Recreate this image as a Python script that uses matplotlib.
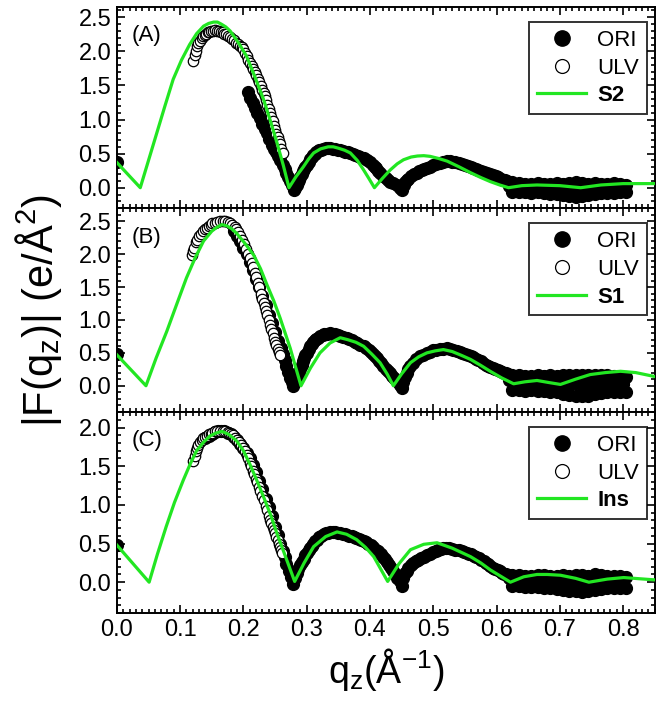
import matplotlib
matplotlib.use('Agg')
import matplotlib.pyplot as plt
from matplotlib.ticker import MultipleLocator, FormatStrFormatter
from matplotlib.lines import Line2D

plt.rcParams['font.family'] = ['Liberation Sans', 'DejaVu Sans']
plt.rcParams['mathtext.fontset'] = 'custom'
plt.rcParams['mathtext.rm'] = 'Liberation Sans'
plt.rcParams['mathtext.default'] = 'regular'

GREEN = '#22e622'

# ============================================================
# data
# ============================================================
# --- panel A : S2 fit ---
s2_q = [0.0, 0.037, 0.05, 0.063, 0.076, 0.089, 0.102, 0.115, 0.126, 0.137, 0.145, 0.153,
        0.159, 0.165, 0.172, 0.179, 0.192, 0.205, 0.218, 0.232, 0.243, 0.253, 0.263, 0.272,
        0.283, 0.295, 0.303, 0.311, 0.322, 0.334, 0.342, 0.35, 0.36, 0.369, 0.38, 0.39,
        0.398, 0.407, 0.42, 0.432, 0.443, 0.453, 0.465, 0.475, 0.485, 0.495, 0.508, 0.522,
        0.54, 0.559, 0.575, 0.59, 0.605, 0.619, 0.64, 0.664, 0.70, 0.733, 0.765, 0.80, 0.85]
s2_f = [0.37, 0.0, 0.40, 0.80, 1.20, 1.59, 1.87, 2.10, 2.26, 2.37, 2.41, 2.43,
        2.43, 2.40, 2.36, 2.30, 2.13, 1.93, 1.63, 1.29, 0.97, 0.66, 0.33, 0.0,
        0.16, 0.31, 0.42, 0.51, 0.57, 0.60, 0.60, 0.58, 0.55, 0.51, 0.40, 0.26,
        0.14, 0.0, 0.14, 0.26, 0.35, 0.41, 0.45, 0.465, 0.47, 0.46, 0.43, 0.39,
        0.31, 0.22, 0.15, 0.09, 0.04, 0.0, 0.03, 0.04, 0.03, 0.0, 0.04, 0.06, 0.06]

ulv_a_q = [0.121, 0.123, 0.125, 0.127, 0.129, 0.131, 0.134, 0.136, 0.139, 0.141, 0.144, 0.146,
           0.149, 0.152, 0.155, 0.158, 0.161, 0.164, 0.167, 0.17, 0.173, 0.176, 0.179, 0.182,
           0.185, 0.188, 0.191, 0.194, 0.197, 0.2, 0.203, 0.205, 0.208, 0.21, 0.213, 0.215,
           0.218, 0.22, 0.223, 0.225, 0.228, 0.23, 0.232, 0.234, 0.236, 0.238, 0.24, 0.242,
           0.244, 0.246, 0.248, 0.25, 0.252, 0.254, 0.256, 0.258, 0.26, 0.262]
ulv_a_f = [1.86, 1.94, 2.01, 2.08, 2.12, 2.15, 2.19, 2.22, 2.24, 2.26, 2.28, 2.29,
           2.30, 2.30, 2.31, 2.30, 2.30, 2.29, 2.28, 2.26, 2.25, 2.23, 2.21, 2.18,
           2.16, 2.13, 2.11, 2.08, 2.06, 2.03, 1.97, 1.93, 1.87, 1.83, 1.78, 1.74,
           1.70, 1.66, 1.60, 1.55, 1.49, 1.44, 1.39, 1.34, 1.28, 1.22, 1.16, 1.10,
           1.04, 0.98, 0.91, 0.85, 0.79, 0.74, 0.69, 0.64, 0.57, 0.51]

ori_a_q = [0.0, 0.207, 0.211, 0.215, 0.219, 0.222, 0.226, 0.23, 0.234, 0.237, 0.241, 0.245,
           0.249, 0.252, 0.255, 0.258, 0.262, 0.265, 0.268, 0.271, 0.274, 0.277, 0.28, 0.282,
           0.284, 0.286, 0.288, 0.29, 0.292, 0.294, 0.296, 0.298, 0.30, 0.303, 0.305, 0.308,
           0.31, 0.313, 0.315, 0.318, 0.32, 0.323, 0.326, 0.33, 0.334, 0.337, 0.341, 0.345,
           0.349, 0.353, 0.357, 0.36, 0.365, 0.369, 0.373, 0.377, 0.381, 0.385, 0.39, 0.395,
           0.40, 0.405, 0.408, 0.41, 0.413, 0.416, 0.42, 0.425, 0.428, 0.432, 0.437, 0.442,
           0.447, 0.45, 0.453, 0.455, 0.458, 0.46, 0.465, 0.47, 0.474, 0.478, 0.482, 0.486,
           0.49, 0.495, 0.50, 0.505, 0.51, 0.515, 0.522, 0.526, 0.53, 0.535, 0.54, 0.545,
           0.55, 0.555, 0.559, 0.563, 0.567, 0.571, 0.575, 0.58, 0.585, 0.59, 0.595, 0.599,
           0.603, 0.607, 0.611, 0.614, 0.617]
ori_a_f = [0.38, 1.40, 1.32, 1.25, 1.17, 1.10, 1.02, 0.93, 0.86, 0.80, 0.72, 0.63,
           0.57, 0.52, 0.46, 0.41, 0.34, 0.28, 0.22, 0.16, 0.10, 0.04, -0.03, 0.0,
           0.04, 0.08, 0.12, 0.16, 0.20, 0.24, 0.27, 0.31, 0.34, 0.38, 0.42, 0.45,
           0.48, 0.50, 0.52, 0.54, 0.55, 0.56, 0.57, 0.58, 0.58, 0.58, 0.575, 0.57,
           0.56, 0.55, 0.54, 0.53, 0.52, 0.51, 0.495, 0.48, 0.465, 0.45, 0.43, 0.41,
           0.38, 0.34, 0.31, 0.29, 0.25, 0.22, 0.17, 0.14, 0.11, 0.09, 0.07, 0.04,
           0.0, -0.03, 0.04, 0.08, 0.11, 0.13, 0.17, 0.20, 0.22, 0.24, 0.255, 0.27,
           0.29, 0.31, 0.33, 0.35, 0.365, 0.38, 0.39, 0.385, 0.38, 0.37, 0.36, 0.345,
           0.33, 0.32, 0.31, 0.295, 0.28, 0.265, 0.25, 0.235, 0.22, 0.20, 0.18, 0.165,
           0.15, 0.135, 0.12, 0.11, 0.10]

# noisy high-q tail of the ORI data (top / middle / bottom of the band)
tail_q = [0.625, 0.635, 0.645, 0.655, 0.665, 0.675, 0.685, 0.695, 0.705, 0.715,
          0.725, 0.735, 0.745, 0.755, 0.765, 0.775, 0.785, 0.795, 0.805]
tail_q_mid = [0.62, 0.63, 0.64, 0.65, 0.66, 0.67, 0.68, 0.69, 0.70, 0.71,
              0.72, 0.73, 0.74, 0.75, 0.76, 0.77, 0.78, 0.79, 0.80]
tail_a_hi = [0.08, 0.07, 0.06, 0.06, 0.07, 0.06, 0.06, 0.07, 0.06, 0.07,
             0.08, 0.07, 0.06, 0.07, 0.06, 0.06, 0.07, 0.06, 0.04]
tail_a_mid = [0.03, 0.0, 0.0, -0.01, 0.0, -0.01, -0.01, -0.02, -0.02, -0.03,
              -0.03, -0.03, -0.02, -0.02, -0.01, -0.01, -0.01, -0.01, -0.01]
tail_a_lo = [-0.06, -0.07, -0.07, -0.08, -0.07, -0.08, -0.09, -0.09, -0.11, -0.12,
             -0.13, -0.12, -0.10, -0.09, -0.08, -0.08, -0.08, -0.07, -0.06]

# --- panel B : S1 fit ---
s1_q = [0.0, 0.046, 0.062, 0.079, 0.095, 0.110, 0.124, 0.137, 0.15, 0.158, 0.166, 0.174,
        0.181, 0.189, 0.202, 0.216, 0.227, 0.237, 0.248, 0.258, 0.266, 0.274, 0.282, 0.291,
        0.306, 0.321, 0.337, 0.353, 0.365, 0.378, 0.39, 0.403, 0.416, 0.427, 0.437, 0.45,
        0.464, 0.477, 0.49, 0.503, 0.516, 0.53, 0.545, 0.559, 0.575, 0.59, 0.608, 0.627,
        0.645, 0.664, 0.682, 0.701, 0.725, 0.748, 0.772, 0.796, 0.82, 0.85]
s1_f = [0.47, 0.0, 0.42, 0.83, 1.25, 1.64, 1.95, 2.20, 2.35, 2.41, 2.45, 2.43,
        2.39, 2.32, 2.17, 1.99, 1.78, 1.54, 1.29, 1.03, 0.80, 0.57, 0.30, 0.0,
        0.27, 0.50, 0.65, 0.73, 0.70, 0.66, 0.60, 0.48, 0.35, 0.18, 0.0, 0.18,
        0.35, 0.44, 0.50, 0.53, 0.55, 0.52, 0.46, 0.40, 0.31, 0.22, 0.12, 0.03,
        0.06, 0.08, 0.05, 0.02, 0.10, 0.17, 0.20, 0.22, 0.20, 0.14]

ulv_b_q = [0.118, 0.12, 0.122, 0.125, 0.127, 0.13, 0.133, 0.136, 0.139, 0.142, 0.145, 0.148,
           0.151, 0.155, 0.159, 0.163, 0.167, 0.171, 0.175, 0.179, 0.182, 0.186, 0.189, 0.192,
           0.195, 0.198, 0.201, 0.204, 0.207, 0.21, 0.213, 0.215, 0.218, 0.22, 0.223, 0.225,
           0.228, 0.23, 0.232, 0.234, 0.236, 0.238, 0.24, 0.242, 0.244, 0.246, 0.248, 0.25,
           0.252, 0.254, 0.256, 0.258]
ulv_b_f = [1.99, 2.05, 2.10, 2.18, 2.22, 2.27, 2.31, 2.35, 2.38, 2.40, 2.43, 2.45,
           2.47, 2.48, 2.49, 2.50, 2.50, 2.50, 2.49, 2.47, 2.45, 2.42, 2.38, 2.34,
           2.28, 2.22, 2.15, 2.08, 2.01, 1.94, 1.86, 1.80, 1.71, 1.65, 1.56, 1.50,
           1.39, 1.32, 1.26, 1.20, 1.13, 1.07, 1.00, 0.93, 0.87, 0.80, 0.73, 0.67,
           0.62, 0.56, 0.51, 0.47]

ori_b_q = [0.0, 0.185, 0.19, 0.195, 0.2, 0.205, 0.21, 0.215, 0.22, 0.225, 0.23, 0.235,
           0.24, 0.245, 0.25, 0.255, 0.259, 0.262, 0.265, 0.268, 0.271, 0.274, 0.277, 0.279,
           0.282, 0.284, 0.286, 0.288, 0.29, 0.292, 0.294, 0.296, 0.298, 0.30, 0.303, 0.305,
           0.308, 0.31, 0.313, 0.315, 0.318, 0.321, 0.325, 0.328, 0.332, 0.337, 0.341, 0.345,
           0.349, 0.353, 0.358, 0.363, 0.367, 0.372, 0.376, 0.38, 0.385, 0.39, 0.394, 0.398,
           0.402, 0.405, 0.408, 0.411, 0.415, 0.418, 0.421, 0.425, 0.428, 0.432, 0.435, 0.438,
           0.441, 0.444, 0.447, 0.45, 0.452, 0.455, 0.458, 0.46, 0.464, 0.468, 0.473, 0.479,
           0.484, 0.49, 0.495, 0.50, 0.505, 0.51, 0.516, 0.522, 0.527, 0.532, 0.537, 0.542,
           0.546, 0.55, 0.555, 0.559, 0.563, 0.567, 0.571, 0.575, 0.579, 0.583, 0.587, 0.59,
           0.594, 0.598, 0.602, 0.606, 0.609, 0.612, 0.615, 0.618]
ori_b_f = [0.48, 2.35, 2.28, 2.20, 2.10, 2.00, 1.88, 1.76, 1.63, 1.50, 1.36, 1.22,
           1.08, 0.95, 0.82, 0.68, 0.57, 0.48, 0.39, 0.30, 0.21, 0.12, 0.05, -0.01,
           0.05, 0.10, 0.15, 0.20, 0.26, 0.32, 0.37, 0.42, 0.46, 0.50, 0.56, 0.60,
           0.63, 0.66, 0.69, 0.71, 0.73, 0.75, 0.77, 0.78, 0.79, 0.80, 0.79, 0.78,
           0.77, 0.76, 0.745, 0.73, 0.71, 0.69, 0.67, 0.65, 0.625, 0.60, 0.57, 0.54,
           0.51, 0.48, 0.45, 0.42, 0.38, 0.34, 0.30, 0.26, 0.22, 0.19, 0.15, 0.12,
           0.08, 0.05, 0.01, -0.04, 0.06, 0.14, 0.20, 0.25, 0.30, 0.34, 0.40, 0.45,
           0.475, 0.50, 0.52, 0.54, 0.55, 0.56, 0.565, 0.57, 0.56, 0.55, 0.535, 0.52,
           0.505, 0.49, 0.47, 0.45, 0.43, 0.41, 0.39, 0.37, 0.345, 0.32, 0.305, 0.29,
           0.27, 0.25, 0.235, 0.22, 0.21, 0.20, 0.19, 0.18]
tail_b_hi = [0.17, 0.16, 0.15, 0.15, 0.16, 0.15, 0.16, 0.15, 0.16, 0.16,
             0.17, 0.16, 0.16, 0.17, 0.16, 0.16, 0.15, 0.14, 0.14]
tail_b_mid = [0.08, 0.05, 0.04, 0.04, 0.05, 0.04, 0.04, 0.03, 0.03, 0.02,
              0.02, 0.02, 0.02, 0.03, 0.03, 0.03, 0.03, 0.03, 0.03]
tail_b_lo = [-0.07, -0.07, -0.08, -0.07, -0.08, -0.08, -0.09, -0.10, -0.12, -0.14,
             -0.16, -0.16, -0.15, -0.13, -0.11, -0.10, -0.10, -0.10, -0.09]

# --- panel C : Ins fit ---
ins_q = [0.0, 0.051, 0.064, 0.078, 0.091, 0.105, 0.116, 0.126, 0.137, 0.147, 0.157, 0.166,
         0.177, 0.189, 0.2, 0.21, 0.221, 0.232, 0.243, 0.253, 0.267, 0.281, 0.296, 0.311,
         0.33, 0.348, 0.363, 0.379, 0.393, 0.406, 0.417, 0.428, 0.446, 0.464, 0.485, 0.506,
         0.53, 0.559, 0.575, 0.59, 0.606, 0.622, 0.643, 0.664, 0.68, 0.701, 0.725, 0.746,
         0.775, 0.801, 0.85]
ins_f = [0.48, 0.0, 0.36, 0.72, 1.03, 1.32, 1.53, 1.70, 1.81, 1.89, 1.93, 1.95,
         1.91, 1.83, 1.70, 1.53, 1.32, 1.10, 0.87, 0.63, 0.32, 0.01, 0.25, 0.46,
         0.59, 0.65, 0.62, 0.55, 0.45, 0.33, 0.17, 0.01, 0.24, 0.42, 0.49, 0.51,
         0.44, 0.33, 0.25, 0.16, 0.08, 0.0, 0.07, 0.10, 0.10, 0.09, 0.05, 0.0,
         0.04, 0.06, 0.03]

ulv_c_q = [0.121, 0.123, 0.125, 0.127, 0.129, 0.131, 0.134, 0.136, 0.139, 0.142, 0.145, 0.148,
           0.151, 0.155, 0.159, 0.163, 0.167, 0.171, 0.175, 0.178, 0.181, 0.184, 0.187, 0.19,
           0.193, 0.196, 0.199, 0.202, 0.205, 0.207, 0.21, 0.212, 0.215, 0.217, 0.22, 0.222,
           0.225, 0.227, 0.23, 0.232, 0.235, 0.237, 0.24, 0.242, 0.244, 0.246, 0.248, 0.25,
           0.252, 0.254, 0.256, 0.258, 0.26, 0.261]
ulv_c_f = [1.57, 1.63, 1.69, 1.74, 1.78, 1.81, 1.84, 1.86, 1.88, 1.89, 1.91, 1.92,
           1.935, 1.95, 1.955, 1.96, 1.955, 1.95, 1.94, 1.93, 1.915, 1.90, 1.87, 1.84,
           1.81, 1.77, 1.73, 1.69, 1.64, 1.60, 1.54, 1.50, 1.44, 1.40, 1.34, 1.30,
           1.23, 1.18, 1.11, 1.06, 0.98, 0.93, 0.86, 0.80, 0.76, 0.72, 0.67, 0.63,
           0.58, 0.54, 0.50, 0.46, 0.41, 0.38]

ori_c_q = [0.0, 0.14, 0.145, 0.15, 0.155, 0.16, 0.165, 0.17, 0.175, 0.18, 0.185, 0.19,
           0.195, 0.2, 0.205, 0.21, 0.215, 0.22, 0.225, 0.23, 0.235, 0.24, 0.245, 0.25,
           0.254, 0.258, 0.262, 0.265, 0.268, 0.272, 0.275, 0.279, 0.282, 0.285, 0.287, 0.29,
           0.292, 0.295, 0.298, 0.30, 0.303, 0.305, 0.308, 0.31, 0.313, 0.316, 0.32, 0.323,
           0.327, 0.33, 0.334, 0.337, 0.341, 0.345, 0.349, 0.353, 0.357, 0.36, 0.364, 0.367,
           0.371, 0.374, 0.378, 0.382, 0.386, 0.39, 0.394, 0.397, 0.401, 0.405, 0.409, 0.412,
           0.415, 0.418, 0.421, 0.424, 0.427, 0.43, 0.434, 0.437, 0.44, 0.443, 0.447, 0.45,
           0.452, 0.455, 0.458, 0.46, 0.465, 0.468, 0.472, 0.476, 0.48, 0.485, 0.49, 0.495,
           0.50, 0.504, 0.508, 0.512, 0.516, 0.52, 0.525, 0.53, 0.535, 0.54, 0.545, 0.549,
           0.553, 0.556, 0.56, 0.564, 0.568, 0.572, 0.576, 0.58, 0.583, 0.587, 0.59, 0.594,
           0.598, 0.602, 0.605, 0.609, 0.612, 0.615, 0.618]
ori_c_f = [0.48, 1.86, 1.89, 1.92, 1.94, 1.95, 1.955, 1.95, 1.935, 1.91, 1.88, 1.84,
           1.79, 1.73, 1.67, 1.60, 1.51, 1.42, 1.31, 1.20, 1.08, 0.97, 0.85, 0.72,
           0.61, 0.50, 0.40, 0.32, 0.24, 0.14, 0.07, -0.02, 0.06, 0.12, 0.17, 0.22,
           0.26, 0.30, 0.35, 0.38, 0.41, 0.44, 0.47, 0.50, 0.53, 0.55, 0.58, 0.60,
           0.62, 0.63, 0.64, 0.65, 0.65, 0.65, 0.64, 0.63, 0.625, 0.62, 0.61, 0.60,
           0.595, 0.59, 0.575, 0.56, 0.545, 0.53, 0.515, 0.50, 0.475, 0.45, 0.42, 0.40,
           0.38, 0.36, 0.33, 0.30, 0.26, 0.22, 0.18, 0.14, 0.10, 0.06, 0.01, -0.05,
           0.06, 0.12, 0.15, 0.18, 0.22, 0.245, 0.27, 0.29, 0.31, 0.33, 0.35, 0.37,
           0.39, 0.405, 0.42, 0.43, 0.44, 0.44, 0.44, 0.43, 0.42, 0.41, 0.40, 0.39,
           0.38, 0.37, 0.36, 0.345, 0.33, 0.31, 0.29, 0.27, 0.25, 0.23, 0.21, 0.19,
           0.17, 0.155, 0.14, 0.125, 0.11, 0.10, 0.09]
tail_c_hi = [0.09, 0.09, 0.08, 0.08, 0.09, 0.09, 0.08, 0.08, 0.09, 0.08,
             0.09, 0.09, 0.08, 0.10, 0.09, 0.08, 0.08, 0.08, 0.07]
tail_c_mid = [0.05, 0.02, 0.01, 0.01, 0.02, 0.01, 0.01, 0.0, 0.0, -0.01,
              -0.01, -0.02, -0.02, -0.01, -0.01, 0.0, 0.0, 0.0, 0.0]
tail_c_lo = [-0.05, -0.05, -0.06, -0.06, -0.06, -0.07, -0.08, -0.09, -0.10, -0.11,
             -0.12, -0.13, -0.12, -0.10, -0.09, -0.08, -0.08, -0.07, -0.07]


# ============================================================
# drawing helpers
# ============================================================
def style_axis(ax, ylim):
    ax.set_xlim(0.0, 0.85)
    ax.set_ylim(*ylim)
    ax.xaxis.set_major_locator(MultipleLocator(0.1))
    ax.xaxis.set_minor_locator(MultipleLocator(0.01))
    ax.yaxis.set_major_locator(MultipleLocator(0.5))
    ax.yaxis.set_minor_locator(MultipleLocator(0.1))
    ax.yaxis.set_major_formatter(FormatStrFormatter('%.1f'))
    ax.tick_params(which='both', direction='in', top=True, right=True, width=1.2)
    ax.tick_params(which='major', length=5.5, labelsize=17, pad=4)
    ax.tick_params(which='minor', length=3)
    for sp in ax.spines.values():
        sp.set_linewidth(1.4)


def draw_panel(ax, ori_q, ori_f, tails, ulv_q, ulv_f, fit_q, fit_f, fit_name, tag):
    hi, mid, lo = tails
    ax.plot(ori_q, ori_f, 'o', ms=8.5, color='black', ls='none', zorder=2)
    ax.plot(tail_q, hi, 'o', ms=8.5, color='black', ls='none', zorder=2)
    ax.plot(tail_q_mid, mid, 'o', ms=8.5, color='black', ls='none', zorder=2)
    ax.plot(tail_q, lo, 'o', ms=8.5, color='black', ls='none', zorder=2)
    ax.plot(ulv_q, ulv_f, 'o', ms=7.5, mfc='white', mec='black', mew=0.9, ls='none', zorder=3)
    ax.plot(fit_q, fit_f, '-', color=GREEN, lw=2.3, zorder=4)

    ax.text(0.028, 0.91, tag, transform=ax.transAxes, fontsize=16, va='top', ha='left')

    handles = [Line2D([], [], marker='o', ls='none', ms=11, color='black'),
               Line2D([], [], marker='o', ls='none', ms=10, mfc='white', mec='black', mew=0.9),
               Line2D([], [], color=GREEN, lw=2.3)]
    leg = ax.legend(handles, ['ORI', 'ULV', fit_name], loc='upper right',
                    bbox_to_anchor=(0.985, 0.925), borderaxespad=0, fontsize=16,
                    frameon=True, fancybox=False, handlelength=2.2, handletextpad=0.5,
                    labelspacing=0.3, borderpad=0.35)
    leg.get_frame().set_edgecolor('black')
    leg.get_frame().set_linewidth(1.4)
    leg.get_texts()[2].set_fontweight('bold')


# ============================================================
# figure
# ============================================================
fig = plt.figure(figsize=(6.64, 7.08), dpi=100)
left, width = 0.176, 0.810
ax_a = fig.add_axes([left, 0.706, width, 0.284])
ax_b = fig.add_axes([left, 0.418, width, 0.288], sharex=ax_a)
ax_c = fig.add_axes([left, 0.134, width, 0.284], sharex=ax_a)

draw_panel(ax_a, ori_a_q, ori_a_f, (tail_a_hi, tail_a_mid, tail_a_lo),
           ulv_a_q, ulv_a_f, s2_q, s2_f, 'S2', '(A)')
draw_panel(ax_b, ori_b_q, ori_b_f, (tail_b_hi, tail_b_mid, tail_b_lo),
           ulv_b_q, ulv_b_f, s1_q, s1_f, 'S1', '(B)')
draw_panel(ax_c, ori_c_q, ori_c_f, (tail_c_hi, tail_c_mid, tail_c_lo),
           ulv_c_q, ulv_c_f, ins_q, ins_f, 'Ins', '(C)')

style_axis(ax_a, (-0.3, 2.65))
style_axis(ax_b, (-0.4, 2.7))
style_axis(ax_c, (-0.4, 2.2))
ax_a.tick_params(labelbottom=False)
ax_b.tick_params(labelbottom=False)

ax_c.set_xlabel(r'q$_z$(Å$^{-1}$)', fontsize=27, labelpad=4)
fig.text(0.058, 0.562, r'|F(q$_z$)| (e/Å$^2$)', fontsize=30, rotation=90,
         ha='center', va='center')

fig.savefig('out.png', dpi=100)
